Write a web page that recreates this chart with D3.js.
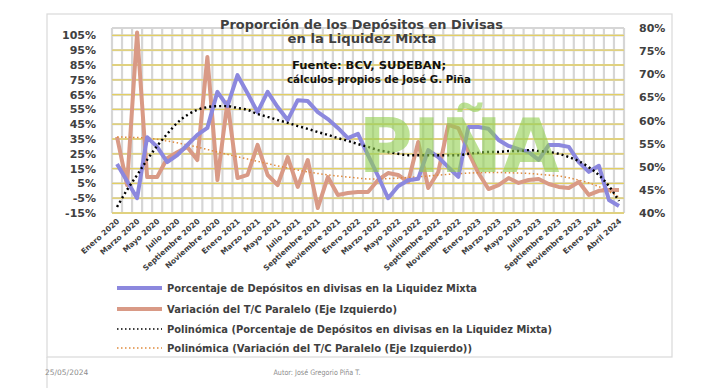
<!DOCTYPE html>
<html>
<head>
<meta charset="utf-8">
<script src="https://cdn.jsdelivr.net/npm/d3@7"></script>
<style>
body { margin: 0; background: #fff; }
text { font-family: "DejaVu Sans", Verdana, sans-serif; }
</style>
</head>
<body>
<svg width="710" height="388"></svg>
<script>
var meses = [
  "Enero 2020","Febrero 2020","Marzo 2020","Abril 2020","Mayo 2020","Junio 2020",
  "Julio 2020","Agosto 2020","Septiembre 2020","Octubre 2020","Noviembre 2020","Diciembre 2020",
  "Enero 2021","Febrero 2021","Marzo 2021","Abril 2021","Mayo 2021","Junio 2021",
  "Julio 2021","Agosto 2021","Septiembre 2021","Octubre 2021","Noviembre 2021","Diciembre 2021",
  "Enero 2022","Febrero 2022","Marzo 2022","Abril 2022","Mayo 2022","Junio 2022",
  "Julio 2022","Agosto 2022","Septiembre 2022","Octubre 2022","Noviembre 2022","Diciembre 2022",
  "Enero 2023","Febrero 2023","Marzo 2023","Abril 2023","Mayo 2023","Junio 2023",
  "Julio 2023","Agosto 2023","Septiembre 2023","Octubre 2023","Noviembre 2023","Diciembre 2023",
  "Enero 2024","Marzo 2024","Abril 2024"
];

// porcentaje de depositos en divisas (eje derecho)
var depositos = [
  50.6, 46.9, 43.2, 56.4, 54.3, 51.0, 52.5, 54.7, 56.9, 58.4,
  66.2, 63.1, 69.8, 65.9, 61.8, 66.2, 62.9, 60.1, 64.4, 64.2,
  61.8, 60.3, 58.4, 56.2, 57.1, 52.5, 48.0, 43.2, 45.8, 47.1,
  47.4, 53.6, 52.1, 49.9, 47.8, 58.6, 58.6, 58.2, 55.8, 54.5,
  53.8, 53.2, 51.5, 54.7, 54.7, 54.3, 51.0, 48.9, 50.2, 42.8, 41.5
];

// variacion del T/C paralelo (eje izquierdo)
var variacion = [
  36.4, 3.9, 107, 9.3, 9.3, 22, 26, 29.6, 20.8, 90.4,
  7.3, 60, 8.6, 10.7, 31, 10.7, 3.9, 22.8, 2.6, 20.8,
  -11.6, 9.3, -2.8, -1.5, -0.8, -0.8, 7.3, 12, 10.7, 6,
  33, 1.9, 12.7, 44.5, 42.4, 26.2, 12, 1.2, 3.9, 8.6,
  5.3, 7.3, 8, 4.6, 2.6, 1.9, 6, -2.8, 0, 0.5, 0.5
];

// lineas de tendencia polinomicas
var tendDepositos = [
  41.3, 45.0, 48.2, 51.5, 54.5, 57.1, 59.5, 61.2, 62.3, 62.9,
  63.1, 63.1, 62.7, 62.3, 61.4, 60.8, 60.1, 59.5, 58.8, 58.2,
  57.5, 56.9, 56.2, 55.6, 54.9, 54.3, 53.6, 53.2, 52.8, 52.5,
  52.5, 52.5, 52.5, 52.5, 52.5, 52.8, 53.0, 53.2, 53.2, 53.4,
  53.4, 53.6, 53.4, 53.2, 52.8, 52.1, 51.2, 49.9, 48.2, 45.8, 42.6
];
var tendVariacion = [
  36.4, 36.2, 36.0, 35.7, 34.8, 33.6, 32.4, 31.0, 29.6, 27.9,
  26.2, 24.6, 23.0, 21.5, 19.9, 18.4, 16.8, 15.4, 14.0, 12.7,
  11.7, 10.8, 10.0, 9.3, 8.6, 8.0, 8.0, 8.2, 8.6, 9.0,
  9.5, 10.0, 10.6, 11.1, 11.6, 12.0, 12.2, 12.3, 12.3, 12.2,
  12.0, 11.7, 11.2, 10.6, 10.0, 8.8, 7.2, 5.3, 2.8, -0.5, -4.2
];

var ticksIzq = [-15, -5, 5, 15, 25, 35, 45, 55, 65, 75, 85, 95, 105];
var ticksDer = [40, 45, 50, 55, 60, 65, 70, 75, 80];

var colorAzul = "#8c88de";
var colorNaranja = "#d99a86";

var svg = d3.select("svg");
svg.append("rect").attr("width", 710).attr("height", 388).attr("fill", "#fff");

// marco del grafico
svg.append("rect").attr("x", 47).attr("y", 14).attr("width", 625).attr("height", 343)
  .attr("fill", "none").attr("stroke", "#d9d9d9").attr("stroke-width", 1.2);
svg.append("line").attr("x1", 47).attr("x2", 47).attr("y1", 357).attr("y2", 388)
  .attr("stroke", "#d9d9d9").attr("stroke-width", 1.2);

var x = d3.scaleBand().domain(meses).range([112, 624]);
var yIzq = d3.scaleLinear().domain([-15, 110]).range([213, 28]);
var yDer = d3.scaleLinear().domain([40, 80]).range([213, 28]);
var cx = function(d) { return x(d) + x.bandwidth() / 2; };

var grid = svg.append("g");
// lineas verticales
grid.selectAll(".v").data(meses.concat(["fin"])).enter().append("line")
  .attr("x1", function(d, i) { return i < meses.length ? x(d) : 624; })
  .attr("x2", function(d, i) { return i < meses.length ? x(d) : 624; })
  .attr("y1", 28).attr("y2", 213)
  .attr("stroke", "#d6d6d6").attr("stroke-width", 2.2);
// lineas horizontales
grid.selectAll(".hg").data(ticksIzq.concat([110])).enter().append("line")
  .attr("x1", 112).attr("x2", 624)
  .attr("y1", function(d) { return yIzq(d); }).attr("y2", function(d) { return yIzq(d); })
  .attr("stroke", "#d6d6d6").attr("stroke-width", 2.2);
grid.selectAll(".hy").data(ticksIzq).enter().append("line")
  .attr("x1", 112).attr("x2", 624)
  .attr("y1", function(d) { return yIzq(d); }).attr("y2", function(d) { return yIzq(d); })
  .attr("stroke", "#e3cf62").attr("stroke-width", 1.3);

// ejes
var ejeIzq = svg.append("g").attr("transform", "translate(99,0)")
  .call(d3.axisLeft(yIzq).tickValues(ticksIzq).tickFormat(function(d) { return d + "%"; }).tickSize(0));
var ejeDer = svg.append("g").attr("transform", "translate(636,0)")
  .call(d3.axisRight(yDer).tickValues(ticksDer).tickFormat(function(d) { return d + "%"; }).tickSize(0));
[ejeIzq, ejeDer].forEach(function(e) {
  e.select(".domain").remove();
  e.selectAll("text").attr("font-size", 11).attr("font-weight", "bold")
    .attr("fill", "#404040").attr("font-family", "DejaVu Sans, Verdana, sans-serif");
});

// etiquetas del eje x (cada dos meses)
svg.selectAll(".xl").data(meses.filter(function(d, i) { return i % 2 == 0; })).enter().append("text")
  .attr("text-anchor", "end")
  .attr("font-size", 7.6).attr("font-weight", "bold").attr("fill", "#404040")
  .attr("transform", function(d) { return "translate(" + (cx(d) + 3) + ",222) rotate(-42)"; })
  .text(function(d) { return d; });

var lineaIzq = d3.line().x(function(d, i) { return cx(meses[i]); }).y(function(d) { return yIzq(d); });
var lineaDer = d3.line().x(function(d, i) { return cx(meses[i]); }).y(function(d) { return yDer(d); });

svg.append("path").datum(variacion).attr("d", lineaIzq)
  .attr("fill", "none").attr("stroke", colorNaranja).attr("stroke-width", 4).attr("stroke-linejoin", "round");

svg.append("path").datum(tendVariacion).attr("d", lineaIzq.curve(d3.curveMonotoneX))
  .attr("fill", "none").attr("stroke", "#e08a3c").attr("stroke-width", 1.5).attr("stroke-dasharray", "1.5,2.5");

svg.append("path").datum(depositos).attr("d", lineaDer)
  .attr("fill", "none").attr("stroke", colorAzul).attr("stroke-width", 4).attr("stroke-linejoin", "round");

svg.append("path").datum(tendDepositos).attr("d", lineaDer.curve(d3.curveMonotoneX))
  .attr("fill", "none").attr("stroke", "#000").attr("stroke-width", 2.4)
  .attr("stroke-dasharray", "2,3");

// marca de agua
svg.append("text").attr("x", 459).attr("y", 172).attr("text-anchor", "middle")
  .attr("font-size", 74).attr("font-weight", "bold").attr("fill", "#92d050").attr("opacity", 0.6)
  .text("PIÑA");

var fit = function(sel, w) {
  sel.attr("textLength", w).attr("lengthAdjust", "spacingAndGlyphs");
};

// titulo
svg.append("text").attr("x", 361.5).attr("y", 29).attr("text-anchor", "middle")
  .attr("font-size", 11.5).attr("font-weight", "bold").attr("fill", "#404040")
  .text("Proporción de los Depósitos en Divisas").call(fit, 283);
svg.append("text").attr("x", 362).attr("y", 43).attr("text-anchor", "middle")
  .attr("font-size", 11.5).attr("font-weight", "bold").attr("fill", "#404040")
  .text("en la Liquidez Mixta").call(fit, 149);

// fuente
svg.append("text").attr("x", 292).attr("y", 69)
  .attr("font-size", 10.5).attr("font-weight", "bold").attr("fill", "#111")
  .text("Fuente: BCV, SUDEBAN;").call(fit, 154);
svg.append("text").attr("x", 287).attr("y", 83)
  .attr("font-size", 10.5).attr("font-weight", "bold").attr("fill", "#111")
  .text("cálculos propios de José G. Piña").call(fit, 184);

// leyenda
var leyenda = [
  {t: "Porcentaje de Depósitos en divisas en la Liquidez Mixta", c: colorAzul, w: 4, dash: null, y: 288, len: 310},
  {t: "Variación del T/C Paralelo (Eje Izquierdo)", c: colorNaranja, w: 4, dash: null, y: 309, len: 230},
  {t: "Polinómica (Porcentaje de Depósitos en divisas en la Liquidez Mixta)", c: "#000", w: 1.6, dash: "1.5,2.5", y: 329, len: 385},
  {t: "Polinómica (Variación del T/C Paralelo (Eje Izquierdo))", c: "#e08a3c", w: 1.4, dash: "1.5,2.5", y: 348, len: 305}
];
var items = svg.selectAll(".ley").data(leyenda).enter().append("g");
items.append("line").attr("x1", 117).attr("x2", 162)
  .attr("y1", function(d) { return d.y; }).attr("y2", function(d) { return d.y; })
  .attr("stroke", function(d) { return d.c; }).attr("stroke-width", function(d) { return d.w; })
  .attr("stroke-dasharray", function(d) { return d.dash; });
items.append("text").attr("x", 167).attr("y", function(d) { return d.y + 4; })
  .attr("font-size", 10).attr("font-weight", "bold").attr("fill", "#404040")
  .attr("textLength", function(d) { return d.len; }).attr("lengthAdjust", "spacingAndGlyphs")
  .text(function(d) { return d.t; });

// pie
svg.append("text").attr("x", 45).attr("y", 375)
  .attr("font-size", 7.5).attr("fill", "#8c8c8c").attr("font-family", "Liberation Sans Narrow, Liberation Sans, sans-serif")
  .text("25/05/2024");
svg.append("text").attr("x", 317).attr("y", 375).attr("text-anchor", "middle")
  .attr("font-size", 7.5).attr("fill", "#8c8c8c").attr("font-family", "Liberation Sans Narrow, Liberation Sans, sans-serif")
  .text("Autor: José Gregorio Piña T.").call(fit, 87);
</script>
</body>
</html>
